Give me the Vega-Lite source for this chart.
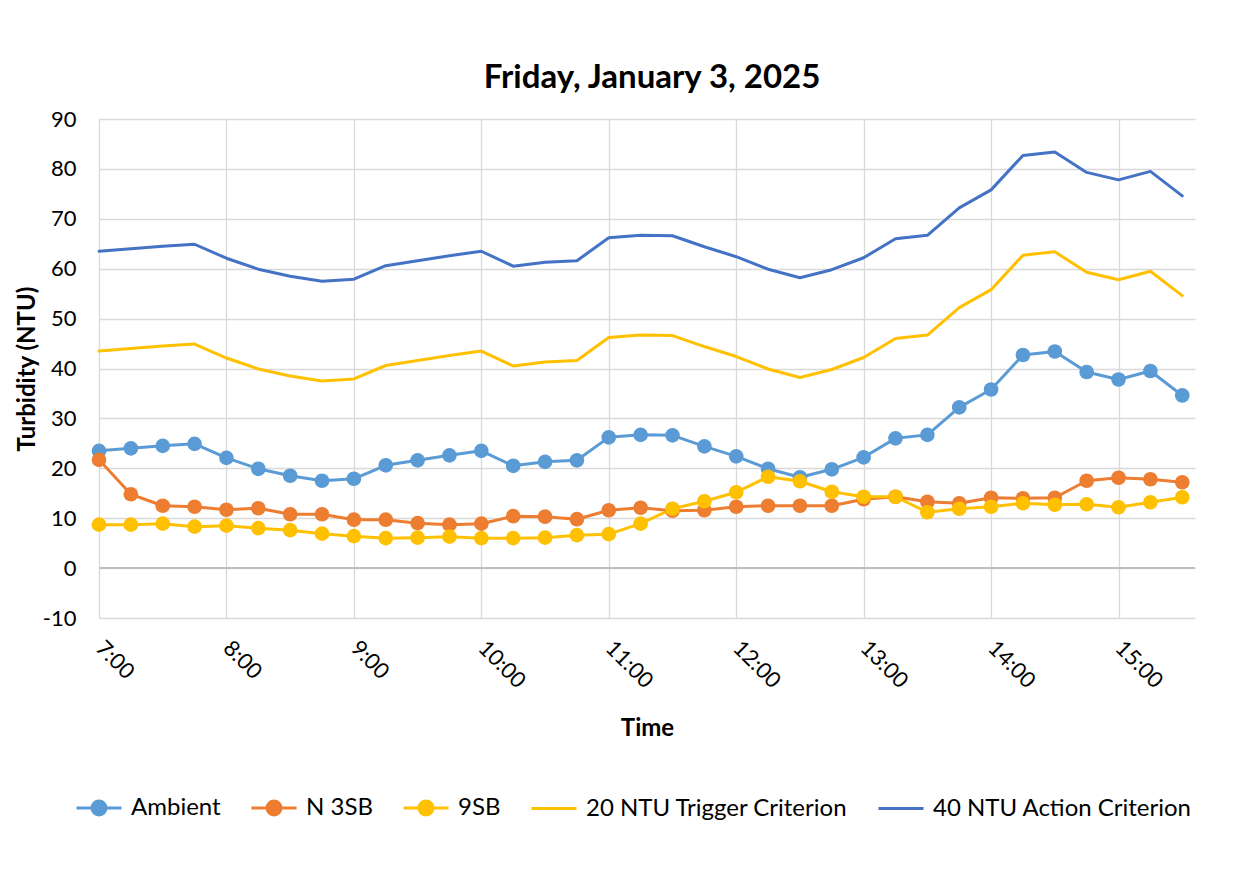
{
  "$schema": "https://vega.github.io/schema/vega-lite/v6.json",
  "autosize": {"type": "none"},
  "width": 1096,
  "height": 499,
  "padding": {"left": 99, "top": 119, "right": 58, "bottom": 260},
  "background": "white",
  "config": {
    "view": {"stroke": null},
    "font": "Lato",
    "axis": {"labelFont": "Lato", "titleFont": "Lato", "labelColor": "#000", "titleColor": "#000"}
  },
  "title": {
    "text": "Friday, January 3, 2025",
    "font": "Lato", "fontSize": 33, "fontWeight": "bold", "color": "#000",
    "anchor": "middle", "frame": "group", "offset": 13, "dx": 5
  },
  "data": {
    "values": [
      {"t": 7.00, "Ambient": 23.5, "N 3SB": 21.7, "9SB": 8.7, "20 NTU Trigger Criterion": 43.5, "40 NTU Action Criterion": 63.5},
      {"t": 7.25, "Ambient": 24.0, "N 3SB": 14.8, "9SB": 8.7, "20 NTU Trigger Criterion": 44.0, "40 NTU Action Criterion": 64.0},
      {"t": 7.50, "Ambient": 24.5, "N 3SB": 12.5, "9SB": 8.9, "20 NTU Trigger Criterion": 44.5, "40 NTU Action Criterion": 64.5},
      {"t": 7.75, "Ambient": 24.9, "N 3SB": 12.3, "9SB": 8.3, "20 NTU Trigger Criterion": 44.9, "40 NTU Action Criterion": 64.9},
      {"t": 8.00, "Ambient": 22.1, "N 3SB": 11.7, "9SB": 8.5, "20 NTU Trigger Criterion": 42.1, "40 NTU Action Criterion": 62.1},
      {"t": 8.25, "Ambient": 19.9, "N 3SB": 12.0, "9SB": 8.0, "20 NTU Trigger Criterion": 39.9, "40 NTU Action Criterion": 59.9},
      {"t": 8.50, "Ambient": 18.5, "N 3SB": 10.8, "9SB": 7.6, "20 NTU Trigger Criterion": 38.5, "40 NTU Action Criterion": 58.5},
      {"t": 8.75, "Ambient": 17.5, "N 3SB": 10.8, "9SB": 6.9, "20 NTU Trigger Criterion": 37.5, "40 NTU Action Criterion": 57.5},
      {"t": 9.00, "Ambient": 17.9, "N 3SB": 9.7, "9SB": 6.4, "20 NTU Trigger Criterion": 37.9, "40 NTU Action Criterion": 57.9},
      {"t": 9.25, "Ambient": 20.6, "N 3SB": 9.7, "9SB": 6.0, "20 NTU Trigger Criterion": 40.6, "40 NTU Action Criterion": 60.6},
      {"t": 9.50, "Ambient": 21.6, "N 3SB": 9.0, "9SB": 6.1, "20 NTU Trigger Criterion": 41.6, "40 NTU Action Criterion": 61.6},
      {"t": 9.75, "Ambient": 22.6, "N 3SB": 8.7, "9SB": 6.3, "20 NTU Trigger Criterion": 42.6, "40 NTU Action Criterion": 62.6},
      {"t": 10.00, "Ambient": 23.5, "N 3SB": 8.9, "9SB": 6.0, "20 NTU Trigger Criterion": 43.5, "40 NTU Action Criterion": 63.5},
      {"t": 10.25, "Ambient": 20.5, "N 3SB": 10.4, "9SB": 6.0, "20 NTU Trigger Criterion": 40.5, "40 NTU Action Criterion": 60.5},
      {"t": 10.50, "Ambient": 21.3, "N 3SB": 10.3, "9SB": 6.1, "20 NTU Trigger Criterion": 41.3, "40 NTU Action Criterion": 61.3},
      {"t": 10.75, "Ambient": 21.6, "N 3SB": 9.8, "9SB": 6.6, "20 NTU Trigger Criterion": 41.6, "40 NTU Action Criterion": 61.6},
      {"t": 11.00, "Ambient": 26.2, "N 3SB": 11.6, "9SB": 6.8, "20 NTU Trigger Criterion": 46.2, "40 NTU Action Criterion": 66.2},
      {"t": 11.25, "Ambient": 26.7, "N 3SB": 12.1, "9SB": 8.9, "20 NTU Trigger Criterion": 46.7, "40 NTU Action Criterion": 66.7},
      {"t": 11.50, "Ambient": 26.6, "N 3SB": 11.5, "9SB": 11.9, "20 NTU Trigger Criterion": 46.6, "40 NTU Action Criterion": 66.6},
      {"t": 11.75, "Ambient": 24.4, "N 3SB": 11.6, "9SB": 13.4, "20 NTU Trigger Criterion": 44.4, "40 NTU Action Criterion": 64.4},
      {"t": 12.00, "Ambient": 22.4, "N 3SB": 12.3, "9SB": 15.2, "20 NTU Trigger Criterion": 42.4, "40 NTU Action Criterion": 62.4},
      {"t": 12.25, "Ambient": 19.9, "N 3SB": 12.5, "9SB": 18.3, "20 NTU Trigger Criterion": 39.9, "40 NTU Action Criterion": 59.9},
      {"t": 12.50, "Ambient": 18.2, "N 3SB": 12.5, "9SB": 17.4, "20 NTU Trigger Criterion": 38.2, "40 NTU Action Criterion": 58.2},
      {"t": 12.75, "Ambient": 19.8, "N 3SB": 12.5, "9SB": 15.3, "20 NTU Trigger Criterion": 39.8, "40 NTU Action Criterion": 59.8},
      {"t": 13.00, "Ambient": 22.2, "N 3SB": 13.8, "9SB": 14.3, "20 NTU Trigger Criterion": 42.2, "40 NTU Action Criterion": 62.2},
      {"t": 13.25, "Ambient": 26.0, "N 3SB": 14.3, "9SB": 14.3, "20 NTU Trigger Criterion": 46.0, "40 NTU Action Criterion": 66.0},
      {"t": 13.50, "Ambient": 26.7, "N 3SB": 13.3, "9SB": 11.2, "20 NTU Trigger Criterion": 46.7, "40 NTU Action Criterion": 66.7},
      {"t": 13.75, "Ambient": 32.2, "N 3SB": 13.0, "9SB": 11.9, "20 NTU Trigger Criterion": 52.2, "40 NTU Action Criterion": 72.2},
      {"t": 14.00, "Ambient": 35.8, "N 3SB": 14.1, "9SB": 12.3, "20 NTU Trigger Criterion": 55.8, "40 NTU Action Criterion": 75.8},
      {"t": 14.25, "Ambient": 42.7, "N 3SB": 14.0, "9SB": 13.0, "20 NTU Trigger Criterion": 62.7, "40 NTU Action Criterion": 82.7},
      {"t": 14.50, "Ambient": 43.4, "N 3SB": 14.1, "9SB": 12.7, "20 NTU Trigger Criterion": 63.4, "40 NTU Action Criterion": 83.4},
      {"t": 14.75, "Ambient": 39.3, "N 3SB": 17.5, "9SB": 12.8, "20 NTU Trigger Criterion": 59.3, "40 NTU Action Criterion": 79.3},
      {"t": 15.00, "Ambient": 37.8, "N 3SB": 18.1, "9SB": 12.2, "20 NTU Trigger Criterion": 57.8, "40 NTU Action Criterion": 77.8},
      {"t": 15.25, "Ambient": 39.5, "N 3SB": 17.8, "9SB": 13.2, "20 NTU Trigger Criterion": 59.5, "40 NTU Action Criterion": 79.5},
      {"t": 15.50, "Ambient": 34.6, "N 3SB": 17.2, "9SB": 14.2, "20 NTU Trigger Criterion": 54.6, "40 NTU Action Criterion": 74.6}
    ]
  },
  "layer": [
    {
      "mark": {"type": "rule", "color": "#BFBFBF", "strokeWidth": 1.5},
      "encoding": {"y": {"datum": 0, "type": "quantitative"}}
    },
    {
      "transform": [
        {"fold": ["Ambient", "N 3SB", "9SB", "20 NTU Trigger Criterion", "40 NTU Action Criterion"], "as": ["series", "value"]}
      ],
      "mark": {"type": "line", "strokeWidth": 3, "strokeJoin": "round", "strokeCap": "round"},
      "encoding": {
        "x": {
          "field": "t", "type": "quantitative",
          "scale": {"domain": [7, 15.6], "nice": false, "zero": false},
          "axis": {
            "values": [7, 8, 9, 10, 11, 12, 13, 14, 15],
            "labelExpr": "datum.value + ':00'",
            "title": "Time", "titleFontSize": 24, "titleFontWeight": "bold", "titlePadding": 25,
            "labelFontSize": 22, "labelAngle": 45, "labelAlign": "left", "labelBaseline": "middle", "labelPadding": 26,
            "ticks": false, "domain": false,
            "grid": true, "gridColor": "#D9D9D9", "gridWidth": 1.3
          }
        },
        "y": {
          "field": "value", "type": "quantitative",
          "scale": {"domain": [-10, 90], "nice": false, "zero": false},
          "axis": {
            "values": [-10, 0, 10, 20, 30, 40, 50, 60, 70, 80, 90],
            "labelExpr": "toString(datum.value)",
            "title": "Turbidity (NTU)", "titleFontSize": 24, "titleFontWeight": "bold", "titlePadding": 3,
            "labelFontSize": 22, "labelPadding": 23,
            "ticks": false, "domain": false,
            "grid": true, "gridColor": "#D9D9D9", "gridWidth": 1.3
          }
        },
        "color": {
          "field": "series", "type": "nominal",
          "scale": {
            "domain": ["Ambient", "N 3SB", "9SB", "20 NTU Trigger Criterion", "40 NTU Action Criterion"],
            "range": ["#5B9BD5", "#ED7D31", "#FFC000", "#FFC000", "#4472C4"]
          },
          "legend": {
            "orient": "none", "legendX": -24, "legendY": 665,
            "direction": "horizontal", "columns": 5, "title": null,
            "labelFont": "Lato", "labelFontSize": 24, "labelColor": "#000", "labelOffset": 8, "labelLimit": 500,
            "columnPadding": 24, "symbolSize": 2025, "symbolStrokeWidth": 3,
            "encode": {
              "symbols": {
                "update": {
                  "shape": {"signal": "indexof(['Ambient','N 3SB','9SB'], datum.value) >= 0 ? 'M-1,0H1M-0.31,0A0.31,0.31,0,1,1,0.31,0A0.31,0.31,0,1,1,-0.31,0Z' : 'M-1,0H1'"},
                  "stroke": {"scale": "color", "field": "value"},
                  "fill": {"scale": "color", "field": "value"},
                  "strokeWidth": {"value": 3},
                  "opacity": {"value": 1}
                }
              }
            }
          }
        }
      }
    },
    {
      "transform": [
        {"fold": ["Ambient", "N 3SB", "9SB"], "as": ["series", "value"]}
      ],
      "mark": {"type": "point", "filled": true, "size": 215, "opacity": 1, "shape": "circle"},
      "encoding": {
        "x": {"field": "t", "type": "quantitative"},
        "y": {"field": "value", "type": "quantitative"},
        "color": {"field": "series", "type": "nominal"}
      }
    }
  ]
}
